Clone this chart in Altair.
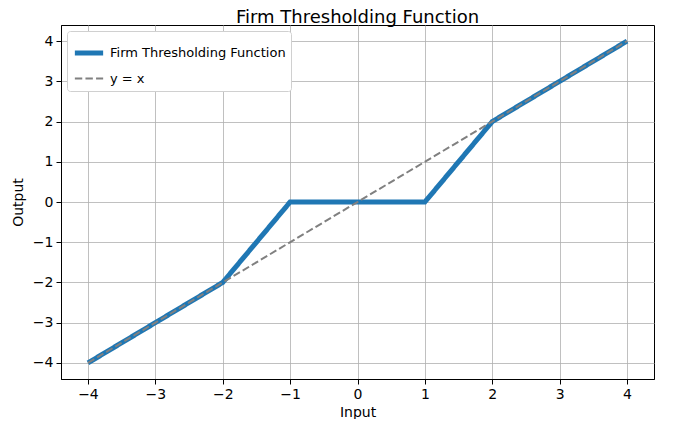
import altair as alt
import pandas as pd

firm_x = [-4, -2, -1, 1, 2, 4]
firm_y = [-4, -2, 0, 0, 2, 4]
ident_x = [-4, 4]
ident_y = [-4, 4]
series_names = ["Firm Thresholding Function", "y = x"]
ticks = [-4, -3, -2, -1, 0, 1, 2, 3, 4]

df = pd.concat([
    pd.DataFrame({"x": firm_x, "y": firm_y, "series": series_names[0], "o": range(len(firm_x))}),
    pd.DataFrame({"x": ident_x, "y": ident_y, "series": series_names[1], "o": range(len(ident_x))}),
])

font = "DejaVu Sans"
xs = alt.Scale(domain=[-4.4, 4.4], nice=False, zero=False)
ys = alt.Scale(domain=[-4.4, 4.4], nice=False, zero=False)

color = alt.Color("series:N", scale=alt.Scale(domain=series_names, range=["#1f77b4", "#808080"]),
                  legend=alt.Legend(title=None, orient="none", legendX=6, legendY=6,
                                    symbolType="stroke", symbolSize=800,
                                    labelFont=font, labelFontSize=13, labelColor="#000000",
                                    labelLimit=0,
                                    fillColor="white", strokeColor="#d0d0d0", cornerRadius=3,
                                    padding=5, rowPadding=-8, labelOffset=4))
dash = alt.StrokeDash("series:N", scale=alt.Scale(domain=series_names, range=[[1, 0], [7.4, 3.2]]), legend=None)
sw = alt.StrokeWidth("series:N", scale=alt.Scale(domain=series_names, range=[5, 2]), legend=None)

base = alt.Chart(df).encode(
    x=alt.X("x:Q", scale=xs, title="Input",
            axis=alt.Axis(values=ticks, format="d")),
    y=alt.Y("y:Q", scale=ys, title="Output",
            axis=alt.Axis(values=ticks, format="d")),
    color=color,
    strokeDash=dash,
    strokeWidth=sw,
    order="o:Q",
)

l1 = base.transform_filter(alt.datum.series == series_names[0]).mark_line(strokeCap="butt", strokeJoin="miter")
l2 = base.transform_filter(alt.datum.series == series_names[1]).mark_line()

chart = alt.layer(l1, l2).properties(
    width=593, height=354,
    title=alt.TitleParams("Firm Thresholding Function", font=font, fontSize=18, fontWeight="normal",
                          color="#000000", offset=-2),
    autosize=alt.AutoSizeParams(type="none"),
    padding={"left": 53, "top": 17, "right": 10, "bottom": 40},
).configure_axis(
    labelFont=font, labelFontSize=14, labelColor="#000000",
    titleFont=font, titleFontSize=14, titleColor="#000000", titleFontWeight="normal",
    domainColor="#000000", tickColor="#000000", tickSize=5,
    gridColor="#b0b0b0", gridWidth=0.8, labelPadding=3,
).configure_axisX(titlePadding=4).configure_axisY(titlePadding=7).configure_view(
    stroke="#000000", strokeWidth=1
)

chart.save("out.html", embed_options={"renderer": "svg", "actions": False})
